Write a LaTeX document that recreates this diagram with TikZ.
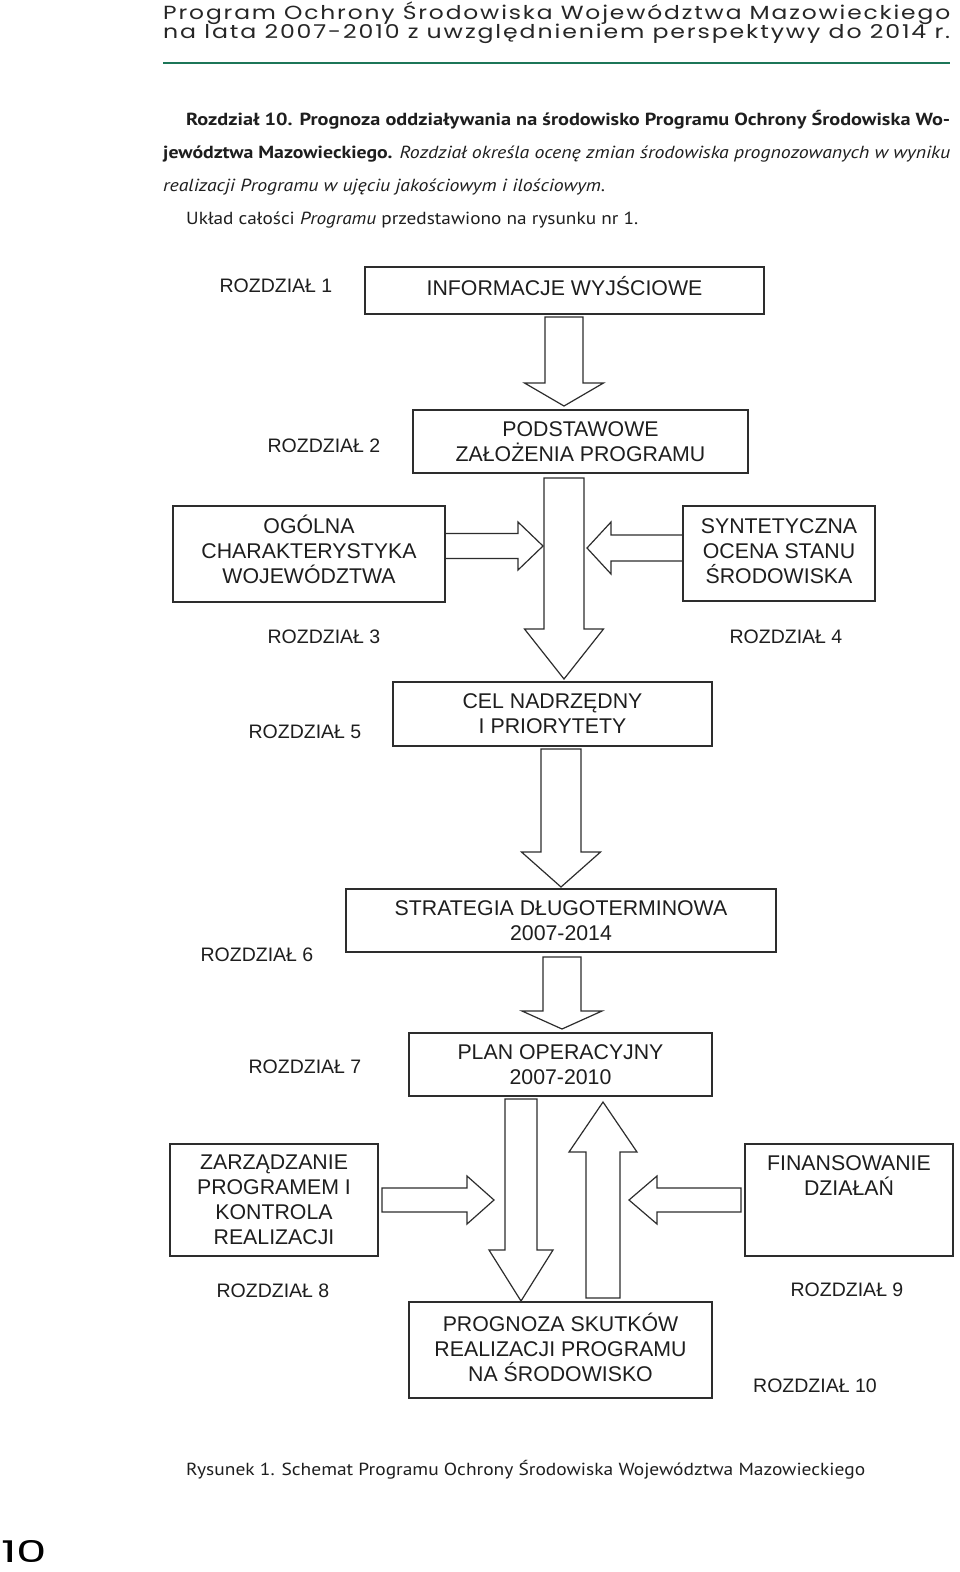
\documentclass[tikz,border=0pt]{standalone}
\usepackage{fontspec}
\usepackage{graphicx}
\usetikzlibrary{positioning}

\newfontfamily\diagfont{Liberation Sans}
\newfontfamily\bodyfont{PT Sans}
\newfontfamily\headfont{Poppins}[LetterSpace=8.0]
\newfontfamily\numfont{Poppins}

\definecolor{liniaramki}{RGB}{45,45,45}
\definecolor{zielen}{RGB}{28,118,88}
\definecolor{tekst}{RGB}{30,30,30}

% strzałka blokowa pionowa : x, pół trzonu, pół grotu, y początku, y podstawy grotu, y czubka
\newcommand{\strzalkapion}[6]{%
  \draw[blokowa] ({#1-#2},#4) -- ({#1+#2},#4) -- ({#1+#2},#5) -- ({#1+#3},#5)
    -- (#1,#6) -- ({#1-#3},#5) -- ({#1-#2},#5) -- cycle;}
% strzałka blokowa pozioma : y, pół trzonu, pół grotu, x początku, x podstawy grotu, x czubka
\newcommand{\strzalkapoziom}[6]{%
  \draw[blokowa] (#4,{#1-#2}) -- (#5,{#1-#2}) -- (#5,{#1-#3}) -- (#6,#1)
    -- (#5,{#1+#3}) -- (#5,{#1+#2}) -- (#4,{#1+#2}) -- cycle;}
% dodatkowa głębokość ostatniej linii (podnosi tekst w ramce)
\newcommand{\podnies}[1]{\rule[-#1]{0pt}{0pt}}

\tikzset{
  ramka/.style={draw=liniaramki, line width=1.3pt, inner sep=0pt, align=center, text=tekst,
    font=\diagfont\fontsize{21.3}{25}\selectfont},
  napis/.style={inner sep=0pt, align=center, text=tekst, font=\diagfont\fontsize{21.3}{25}\selectfont},
  rozdzial/.style={inner sep=0pt, text=tekst, font=\diagfont\fontsize{19.5}{24}\selectfont},
  blokowa/.style={draw=liniaramki, line width=1.2pt, line join=miter},
  akapit/.style={inner sep=0pt, anchor=base west, text=tekst, font=\bodyfont\fontsize{17.5}{20}\selectfont},
  naglowek/.style={inner sep=0pt, anchor=base west, text=black!85, font=\headfont\fontsize{19}{20}\selectfont}
}

\begin{document}
\begin{tikzpicture}[x=1pt, y=-1pt]

  \fill[white] (0,0) rectangle (960,1572);
  \useasboundingbox (0,0) rectangle (960,1572);

  % ==========================================
  % NAGŁÓWEK STRONY
  % ==========================================
  \node[naglowek] (nag1) at (163,19) {\resizebox{787pt}{\height}{Program Ochrony Środowiska Województwa Mazowieckiego}};
  \node[naglowek] (nag2) at (163,38) {\resizebox{787pt}{\height}{na lata 2007-2010 z uwzględnieniem perspektywy do 2014 r.}};
  \draw[zielen, line width=2.2pt] (163,63) -- (950,63);

  % Tekst wstępny
  \node[akapit] (ak1) at (186,125) {\resizebox{764pt}{\height}{\bfseries Rozdział 10. Prognoza oddziaływania na środowisko Programu Ochrony Środowiska Wo-}};
  \node[akapit] (ak2) at (163,158) {\resizebox{787pt}{\height}{\textbf{jewództwa Mazowieckiego.} \textit{Rozdział określa ocenę zmian środowiska prognozowanych w wyniku}}};
  \node[akapit] (ak3) at (163,191) {\resizebox{442pt}{\height}{\itshape realizacji Programu w ujęciu jakościowym i ilościowym.}};
  \node[akapit] (ak4) at (186,224) {\resizebox{452pt}{\height}{Układ całości \textit{Programu} przedstawiono na rysunku nr 1.}};

  % ==========================================
  % SCHEMAT : RAMKI
  % ==========================================
  \node[ramka, minimum width=399pt, minimum height=47pt] (info) at (564.5,290.5) {INFORMACJE WYJŚCIOWE\podnies{10pt}};
  \node[ramka, minimum width=335pt, minimum height=63pt] (zal) at (580.5,441.5) {PODSTAWOWE\\ZAŁOŻENIA PROGRAMU};
  \node[ramka, minimum width=272pt, minimum height=96pt] (ogol) at (309,554) {OGÓLNA\\CHARAKTERYSTYKA\\WOJEWÓDZTWA\podnies{10pt}};
  \node[ramka, minimum width=192pt, minimum height=95pt] (synt) at (779,553.5) {SYNTETYCZNA\\OCENA STANU\\ŚRODOWISKA\podnies{4pt}};
  \node[ramka, minimum width=319pt, minimum height=64pt] (cel) at (552.5,714) {CEL NADRZĘDNY\\I PRIORYTETY};
  \node[ramka, minimum width=430pt, minimum height=63pt] (strat) at (561,920.5) {STRATEGIA DŁUGOTERMINOWA\\2007-2014};
  \node[ramka, minimum width=303pt, minimum height=63pt] (plan) at (560.5,1064.5) {PLAN OPERACYJNY\\2007-2010};
  \node[ramka, minimum width=208pt, minimum height=112pt] (zarz) at (274,1200) {ZARZĄDZANIE\\PROGRAMEM I\\KONTROLA\\REALIZACJI};
  \node[ramka, minimum width=208pt, minimum height=112pt] (fin) at (849,1200) {};
  \node[napis, below=12pt of fin.north] (fintxt) {FINANSOWANIE\\DZIAŁAŃ};
  \node[ramka, minimum width=303pt, minimum height=96pt] (progn) at (560.5,1350) {PROGNOZA SKUTKÓW\\REALIZACJI PROGRAMU\\NA ŚRODOWISKO\podnies{6pt}};

  % Numery rozdziałów
  \node[rozdzial] (r1) at (276,286) {ROZDZIAŁ 1};
  \node[rozdzial] (r2) at (324,446) {ROZDZIAŁ 2};
  \node[rozdzial] (r3) at (324,637) {ROZDZIAŁ 3};
  \node[rozdzial] (r4) at (786,637) {ROZDZIAŁ 4};
  \node[rozdzial] (r5) at (305,732) {ROZDZIAŁ 5};
  \node[rozdzial] (r6) at (257,955) {ROZDZIAŁ 6};
  \node[rozdzial] (r7) at (305,1067) {ROZDZIAŁ 7};
  \node[rozdzial] (r8) at (273,1291) {ROZDZIAŁ 8};
  \node[rozdzial] (r9) at (847,1290) {ROZDZIAŁ 9};
  \node[rozdzial] (r10) at (815,1386) {ROZDZIAŁ 10};

  % ==========================================
  % SCHEMAT : STRZAŁKI BLOKOWE
  % ==========================================
  \strzalkapion{564}{19}{39.5}{317}{383}{406}
  \strzalkapion{564}{20}{39.5}{478}{629}{679}
  \strzalkapoziom{546}{12.5}{24}{445}{518}{543}
  \strzalkapoziom{548}{13}{26}{683}{611}{587}
  \strzalkapion{561}{20}{39.5}{749}{852}{887}
  \strzalkapion{562}{19}{40}{957}{1011}{1029}
  \strzalkapion{521}{16}{32}{1099}{1250}{1301}
  \strzalkapion{603}{17}{34}{1298}{1152}{1102}
  \strzalkapoziom{1200}{12}{24}{382}{467}{494}
  \strzalkapoziom{1200}{12}{24}{741}{657}{629}

  % Podpis rysunku i numer strony
  \node[akapit] (podpis) at (186,1475) {\resizebox{679pt}{\height}{Rysunek 1. Schemat Programu Ochrony Środowiska Województwa Mazowieckiego}};
  \node[naglowek, text=black, font=\numfont\fontsize{30}{30}\selectfont] (strona) at (1,1562) {\resizebox{46pt}{\height}{10}};

\end{tikzpicture}
\end{document}
